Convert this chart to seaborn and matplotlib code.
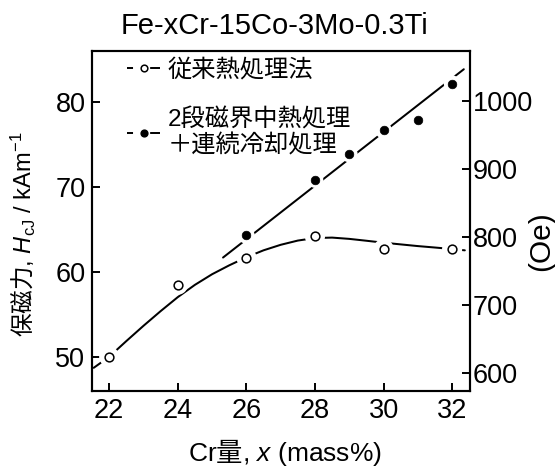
import matplotlib
matplotlib.use('Agg')
import matplotlib.pyplot as plt
from matplotlib.lines import Line2D
import seaborn as sns

# 従来熱処理法 (open circles)
cr_conv = [22, 24, 26, 28, 30, 32]
hc_conv = [50.0, 58.5, 61.7, 64.2, 62.7, 62.7]

# hand-drawn guide curve through the open circles
curve_cr = [21.55, 22.0, 22.5, 23.0, 23.5, 24.0, 24.5, 25.0, 25.5, 26.0,
            26.5, 27.0, 27.5, 28.0, 28.5, 29.0, 29.5, 30.0, 30.5, 31.0,
            31.5, 32.0, 32.37]
curve_hc = [48.7, 50.0, 51.85, 53.65, 55.38, 57.03, 58.48, 59.73, 60.78, 61.73,
            62.55, 63.2, 63.7, 64.0, 64.05, 63.9, 63.68, 63.45, 63.25, 63.05,
            62.88, 62.7, 62.55]

# 2段磁界中熱処理＋連続冷却処理 (filled circles)
cr_two = [26, 28, 29, 30, 31, 32]
hc_two = [64.3, 70.9, 73.9, 76.7, 77.9, 82.2]

# straight guide line for the filled circles
fit_cr = [25.32, 32.34]
fit_hc = [61.7, 83.9]

x_ticks = [22, 24, 26, 28, 30, 32]
y_ticks = [50, 60, 70, 80]
oe_ticks = [600, 700, 800, 900, 1000]
labels = ['従来熱処理法', '2段磁界中熱処理\n＋連続冷却処理']

sns.set_theme(style='ticks', rc={
    'axes.edgecolor': 'black', 'xtick.color': 'black', 'ytick.color': 'black',
    'text.color': 'black', 'axes.labelcolor': 'black', 'axes.linewidth': 1.5,
})
plt.rcParams['font.family'] = ['Liberation Sans', 'Noto Sans CJK JP']
# mathtext has no font fallback: CJK goes through \mathrm, latin through \mathsf
plt.rcParams['mathtext.fontset'] = 'custom'
plt.rcParams['mathtext.rm'] = 'Noto Sans CJK JP'
plt.rcParams['mathtext.sf'] = 'Liberation Sans'
plt.rcParams['mathtext.it'] = 'Liberation Sans:italic'

fig = plt.figure(figsize=(5.55, 4.71), dpi=100)
ax = fig.add_axes([0.1652, 0.1705, 0.6816, 0.7212])

# guide lines
sns.lineplot(x=curve_cr, y=curve_hc, ax=ax, color='black', lw=1.45, sort=False, zorder=2)
sns.lineplot(x=fit_cr, y=fit_hc, ax=ax, color='black', lw=1.45, sort=False, zorder=2)

# white halos so the lines stop short of the symbols
sns.scatterplot(x=cr_conv, y=hc_conv, ax=ax, s=14.5 ** 2, color='white',
                edgecolor='none', zorder=3, legend=False)
sns.scatterplot(x=cr_two, y=hc_two, ax=ax, s=12 ** 2, color='white',
                edgecolor='none', zorder=3, legend=False)

# symbols
sns.scatterplot(x=cr_conv, y=hc_conv, ax=ax, s=6.3 ** 2, color='white',
                edgecolor='black', linewidth=1.1, zorder=4, legend=False)
sns.scatterplot(x=cr_two, y=hc_two, ax=ax, s=6.2 ** 2, color='black',
                edgecolor='black', linewidth=0.5, zorder=4, legend=False)

ax.set_xlim(21.49, 32.52)
ax.set_ylim(46.0, 86.05)
ax.set_xticks(x_ticks)
ax.set_yticks(y_ticks)
ax.grid(False)
ax.tick_params(axis='both', direction='in', length=6, width=1.4, labelsize=19.5)
ax.tick_params(axis='x', pad=5, top=False)
ax.tick_params(axis='y', pad=4.5, right=False)

ax2 = ax.twinx()
ax2.set_ylim(574.4, 1073.4)
ax2.set_yticks(oe_ticks)
ax2.grid(False)
ax2.tick_params(axis='y', direction='in', length=6, width=1.4, labelsize=19.5, pad=2)

# legend
dash = (0, (3.1, 8.8, 5.2, 10))
handles = [
    Line2D([], [], color='black', lw=1.4, ls=dash, marker='o', ms=4.8,
           mfc='white', mec='black', mew=1.1),
    Line2D([], [], color='black', lw=1.4, ls=dash, marker='o', ms=4.8,
           mfc='black', mec='black', mew=1.1),
]
leg = ax.legend(handles, labels, loc='upper left', bbox_to_anchor=(0.094, 0.978),
                frameon=False, fontsize=17.5, handlelength=1.35, handletextpad=0.3,
                labelspacing=1.12, borderpad=0, borderaxespad=0)
for t in leg.get_texts():
    t.set_linespacing(1.16)

ax.set_title('Fe-xCr-15Co-3Mo-0.3Ti', fontsize=21, x=0.484, y=1.0736, va='center', pad=0)

ax.set_xlabel('Cr$\\mathrm{量}$, $x$ (mass%)', fontsize=19)
ax.xaxis.label.set_va('center')
ax.xaxis.set_label_coords(0.511, -0.1805)

ax.set_ylabel('$\\mathrm{保磁力}$, $H_{\\mathsf{cJ}}$ / kAm$^{\\mathsf{-1}}$', fontsize=17)
ax.yaxis.label.set(va='center', ha='center', rotation_mode='default')
ax.yaxis.set_label_coords(-0.1816, 0.4607)

ax2.set_ylabel('(Oe)', fontsize=21.5)
ax2.yaxis.label.set(va='center', ha='center', rotation=90, rotation_mode='default')
ax2.yaxis.set_label_coords(1.1877, 0.439)

fig.savefig('out.png', dpi=100)
plt.close(fig)
